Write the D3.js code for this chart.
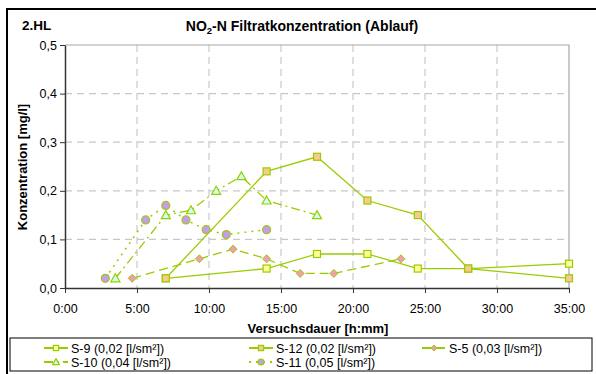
<!DOCTYPE html>
<html><head><meta charset="utf-8">
<script src="https://cdn.jsdelivr.net/npm/d3@7"></script>
<style>
body{margin:0;background:#fff;}
svg{display:block;font-family:"Liberation Sans",Arial,sans-serif;}
</style></head>
<body><svg id="c" width="596" height="374"></svg>
<script>
// ---- data ----
const xTicks = [0,5,10,15,20,25,30,35];
const xTickLabels = ["0:00","5:00","10:00","15:00","20:00","25:00","30:00","35:00"];
const yTicks = [0,0.1,0.2,0.3,0.4,0.5];
const yTickLabels = ["0,0","0,1","0,2","0,3","0,4","0,5"];

const s9_t  = [7,14,17.5,21,24.5,28,35];
const s9_v  = [0.02,0.04,0.07,0.07,0.04,0.04,0.05];
const s12_t = [7,14,17.5,21,24.5,28,35];
const s12_v = [0.02,0.24,0.27,0.18,0.15,0.04,0.02];
const s5_t  = [4.67,9.33,11.67,14,16.33,18.67,23.33];
const s5_v  = [0.02,0.06,0.08,0.06,0.03,0.03,0.06];
const s10_t = [3.5,7,8.75,10.5,12.25,14,17.5];
const s10_v = [0.02,0.15,0.16,0.20,0.23,0.18,0.15];
const s11_t = [2.8,5.6,7,8.4,9.8,11.2,14];
const s11_v = [0.02,0.14,0.17,0.14,0.12,0.11,0.12];

const seriesNames = ["S-9 (0,02 [l/sm²])","S-12 (0,02 [l/sm²])","S-5  (0,03 [l/sm²])","S-10 (0,04 [l/sm²])","S-11 (0,05 [l/sm²])"];

const line = "#99CC00";
const series = [
  {name:seriesNames[0], t:s9_t,  v:s9_v,  fill:"#FFFF99", shape:"square",   dash:null,        w:1.3},
  {name:seriesNames[1], t:s12_t, v:s12_v, fill:"#FBC98C", shape:"square",   dash:null,        w:1.3},
  {name:seriesNames[2], t:s5_t,  v:s5_v,  fill:"#F59AB8", shape:"diamond",  dash:"9,5",       w:1.3},
  {name:seriesNames[3], t:s10_t, v:s10_v, fill:"#CCFFEE", shape:"triangle", dash:"9,4,2,4",   w:1.3},
  {name:seriesNames[4], t:s11_t, v:s11_v, fill:"#C99BEF", shape:"circle",   dash:"2,5",       w:1.5}
];

const svg = d3.select("#c");
const x = d3.scaleLinear().domain([0,35]).range([65,569]);
const y = d3.scaleLinear().domain([0,0.5]).range([288,45]);

// outer frame
svg.append("rect").attr("x",7).attr("y",9).attr("width",600).attr("height",380)
  .attr("fill","none").attr("stroke","#000").attr("stroke-width",2);

// grid
const g = svg.append("g");
g.selectAll(".vg").data(xTicks.filter(d=>d>0&&d<35)).enter().append("line")
  .attr("x1",d=>x(d)).attr("x2",d=>x(d)).attr("y1",y(0.5)).attr("y2",y(0))
  .attr("stroke","#C8C8C8").attr("stroke-width",1.2).attr("stroke-dasharray","7,5");
g.selectAll(".hg").data(yTicks.filter(d=>d>0&&d<0.5)).enter().append("line")
  .attr("x1",x(0)).attr("x2",x(35)).attr("y1",d=>y(d)).attr("y2",d=>y(d))
  .attr("stroke","#C8C8C8").attr("stroke-width",1.2).attr("stroke-dasharray","7,5");
// top/right border
g.append("path").attr("d",`M${x(0)},${y(0.5)}H${x(35)}V${y(0)}`)
  .attr("fill","none").attr("stroke","#A6A6A6").attr("stroke-width",1.2);

// axes
const yAxis = svg.append("g").attr("transform",`translate(${x(0)},0)`)
  .call(d3.axisLeft(y).tickValues(yTicks).tickFormat((d,i)=>yTickLabels[i]).tickSize(5).tickSizeOuter(0));
const xAxis = svg.append("g").attr("transform",`translate(0,${y(0)})`)
  .call(d3.axisBottom(x).tickValues(xTicks).tickFormat((d,i)=>xTickLabels[i]).tickSize(5).tickSizeOuter(0));
[yAxis,xAxis].forEach(a=>{
  a.select(".domain").attr("stroke","#333").attr("stroke-width",1.5);
  a.selectAll(".tick line").attr("stroke","#333");
  a.selectAll("text").attr("font-family","'Liberation Sans',Arial,sans-serif").attr("font-size",12.5).attr("fill","#000");
});
yAxis.selectAll("text").attr("x",-8);
xAxis.selectAll("text").attr("y",16);

// titles
svg.append("text").attr("x",22).attr("y",30).attr("font-weight","bold").attr("font-size",13.5).text("2.HL");
const tt = svg.append("text").attr("x",302).attr("y",31).attr("text-anchor","middle")
  .attr("font-weight","bold").attr("font-size",14);
tt.append("tspan").text("NO");
tt.append("tspan").attr("font-size",9.5).attr("dy",3).text("2");
tt.append("tspan").attr("dy",-3).text("-N Filtratkonzentration (Ablauf)");
svg.append("text").attr("transform","translate(27,167) rotate(-90)").attr("text-anchor","middle")
  .attr("font-weight","bold").attr("font-size",13).text("Konzentration [mg/l]");
svg.append("text").attr("x",318).attr("y",333).attr("text-anchor","middle")
  .attr("font-weight","bold").attr("font-size",13).text("Versuchsdauer [h:mm]");

// marker
function marker(sel, s, cx, cy, scale){
  const k = scale||1;
  if(s.shape==="square"){
    sel.append("rect").attr("x",cx-3.5*k).attr("y",cy-3.5*k).attr("width",7*k).attr("height",7*k)
      .attr("fill",s.fill).attr("stroke",line).attr("stroke-width",1.2);
  } else if(s.shape==="diamond"){
    sel.append("path").attr("d",`M${cx},${cy-4*k}L${cx+4*k},${cy}L${cx},${cy+4*k}L${cx-4*k},${cy}Z`)
      .attr("fill",s.fill).attr("stroke",line).attr("stroke-width",1);
  } else if(s.shape==="triangle"){
    sel.append("path").attr("d",`M${cx},${cy-4.5*k}L${cx+4.5*k},${cy+3.5*k}L${cx-4.5*k},${cy+3.5*k}Z`)
      .attr("fill",s.fill).attr("stroke",line).attr("stroke-width",1.2);
  } else {
    sel.append("circle").attr("cx",cx).attr("cy",cy).attr("r",4*k)
      .attr("fill",s.fill).attr("stroke",line).attr("stroke-width",1.2);
  }
}

const lg = d3.line().x(d=>x(d[0])).y(d=>y(d[1]));
series.forEach(s=>{
  const pts = s.t.map((t,i)=>[t,s.v[i]]);
  svg.append("path").attr("d",lg(pts)).attr("fill","none").attr("stroke",line)
    .attr("stroke-width",s.w).attr("stroke-dasharray",s.dash);
});
series.forEach(s=>{
  const gg = svg.append("g");
  s.t.forEach((t,i)=>marker(gg,s,x(t),y(s.v[i])));
});

// legend
svg.append("rect").attr("x",10).attr("y",338).attr("width",582).attr("height",33)
  .attr("fill","#fff").attr("stroke","#000").attr("stroke-width",1);
const legPos = [[44,348],[249,348],[422,348],[44,362],[249,362]];
series.forEach((s,i)=>{
  const [lx,ly] = legPos[i];
  const gg = svg.append("g");
  gg.append("line").attr("x1",lx).attr("x2",lx+24).attr("y1",ly).attr("y2",ly)
    .attr("stroke",line).attr("stroke-width",2).attr("stroke-dasharray",s.dash);
  marker(gg,s,lx+12,ly,0.75);
  gg.append("text").attr("x",lx+27).attr("y",ly+4.5).attr("font-size",12.5).text(s.name);
});
</script></body></html>
